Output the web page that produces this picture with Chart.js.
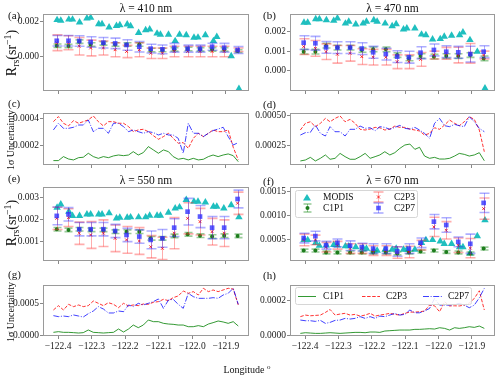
<!DOCTYPE html>
<html><head><meta charset="utf-8">
<script src="https://cdn.jsdelivr.net/npm/chart.js@4.4.1/dist/chart.umd.min.js"></script>
<style>
html,body{margin:0;padding:0;background:#fff;}
#wrap{position:relative;width:500px;height:378px;overflow:hidden;font-family:"Liberation Serif","DejaVu Serif",serif;color:#111;}
canvas{position:absolute;}
.t{position:absolute;white-space:nowrap;line-height:1;}
.t sub{font-size:70%;vertical-align:-0.3em;line-height:0;}
.t sup{font-size:70%;vertical-align:0.55em;line-height:0;}
</style></head><body><div id="wrap"></div>
<script>
// ---------------- DATA ----------------
const LON_PTS = [-122.404,-122.369,-122.337,-122.303,-122.265,-122.230,-122.196,-122.158,-122.124,-122.089,-122.054,-122.014,-121.977,-121.941,-121.905,-121.865];
const LON_MODIS = [-122.403,-122.392,-122.368,-122.357,-122.336,-122.314,-122.303,-122.279,-122.269,-122.248,-122.226,-122.216,-122.194,-122.184,-122.160,-122.139,-122.127,-122.105,-122.095,-122.071,-122.051,-122.038,-122.018,-121.995,-121.983,-121.961,-121.937,-121.927,-121.906,-121.884,-121.861];
const LON_UNC = [-122.414,-122.399,-122.384,-122.369,-122.354,-122.339,-122.325,-122.310,-122.295,-122.280,-122.265,-122.250,-122.235,-122.220,-122.205,-122.190,-122.176,-122.161,-122.146,-122.131,-122.116,-122.101,-122.086,-122.071,-122.057,-122.042,-122.027,-122.012,-121.997,-121.982,-121.967,-121.952,-121.938,-121.923,-121.908,-121.893,-121.878,-121.863];
const X_TICKS = [-122.4,-122.3,-122.2,-122.1,-122.0,-121.9];
const X_TICK_LABELS = ['\u2212122.4','\u2212122.3','\u2212122.2','\u2212122.1','\u2212122.0','\u2212121.9'];
const SERIES = ['MODIS','C1P1','C2P3','C2P7'];

// 410 nm
const MODIS_410 = [0.0021,0.00206,0.00213,0.00213,0.00196,0.00219,0.00223,0.00187,0.00187,0.00168,0.00177,0.00181,0.00185,0.00175,0.00137,0.00152,0.00156,0.00133,0.00126,0.00126,0.0009,0.00126,0.00124,0.00109,0.0011,0.00124,0.0009,0.00114,null,0.00004,-0.00183];
const C1P1_410 = [0.00063,0.00061,0.00086,0.0007,0.00076,0.0007,0.0007,0.0007,0.00038,0.00038,0.00042,0.00044,0.00042,0.00042,0.00042,0.00032];
const C1P1_410_ERR = [0.0001,0.0001,0.0001,0.0001,0.0001,0.0001,0.0001,0.0001,0.0001,0.0001,0.0001,0.0001,0.0001,0.0001,0.0001,0.00008];
const C2P3_410 = [0.0008,0.0008,0.0006,0.0005,0.0005,0.0004,0.0003,0.0004,0.0002,0.0002,0.0003,0.0003,0.0003,0.0003,0.0003,0.0004];
const C2P3_410_ERR = [0.00045,0.0004,0.0005,0.00045,0.0004,0.0004,0.00035,0.0004,0.0003,0.0003,0.0003,0.0003,0.0003,0.0003,0.0003,0.0001];
const C2P7_410 = [0.00091,0.00091,0.0009,0.00084,0.0008,0.00076,0.00067,0.00057,0.00046,0.00042,0.00051,0.00046,0.00046,0.00057,0.00051,0.00038];
const C2P7_410_ERR = [0.0003,0.0003,0.0003,0.0003,0.0003,0.0003,0.0003,0.0003,0.00025,0.00025,0.00025,0.0002,0.0002,0.0002,0.00025,0.0002];
// 470 nm
const MODIS_470 = [0.00246,0.00246,0.00264,0.00264,0.00259,0.00256,0.00268,0.00242,0.00251,0.00237,0.00242,0.00251,0.00259,0.00251,0.00242,0.00229,0.00239,0.00212,0.00217,0.00217,0.00186,0.00183,0.00161,0.00163,0.00175,0.0018,0.00183,0.00197,0.00158,0.00098,-0.00088];
const C1P1_470 = [0.00098,0.00098,0.00129,0.00119,0.00119,0.00107,0.0011,0.0011,0.00081,0.00064,0.00076,0.00073,0.00076,0.00076,0.00081,0.00064];
const C1P1_470_ERR = [0.00012,0.00012,0.00012,0.00012,0.00012,0.00012,0.00012,0.00012,0.00012,0.00012,0.00012,0.00012,0.00012,0.00012,0.00012,0.00012];
const C2P3_470 = [0.00124,0.00115,0.00098,0.00085,0.0009,0.00073,0.0007,0.0007,0.00047,0.00047,0.00059,0.00081,0.0009,0.00081,0.0009,0.00081];
const C2P3_470_ERR = [0.0004,0.0004,0.0004,0.00045,0.0004,0.0004,0.0004,0.0004,0.00035,0.00035,0.00035,0.0002,0.0003,0.0004,0.0005,0.0002];
const C2P7_470 = [0.00144,0.00141,0.0012,0.00119,0.00119,0.00114,0.00095,0.00086,0.00073,0.0007,0.00093,0.00107,0.00098,0.00095,0.00086,0.00098];
const C2P7_470_ERR = [0.00035,0.00035,0.0003,0.0003,0.0003,0.0003,0.0003,0.0003,0.0003,0.0003,0.0003,0.0003,0.0003,0.0003,0.0004,0.0003];
// 550 nm
const MODIS_550 = [0.00253,0.00268,0.00235,0.00216,0.00216,0.00223,0.00223,0.00223,0.00223,0.00228,0.00205,0.00208,0.00208,0.0021,0.0021,0.0021,0.00217,0.00217,0.00217,0.00231,0.0025,0.00255,0.00288,0.0028,0.0028,0.00277,0.00258,0.00258,0.0025,0.00265,0.0021];
const C1P1_550 = [0.00156,0.00153,0.00156,0.00153,0.00153,0.00145,0.00145,0.00145,0.00115,0.00115,0.00126,0.00133,0.00127,0.00123,0.00127,0.00126];
const C1P1_550_ERR = [0.00008,0.00008,0.00008,0.00008,0.00008,0.00008,0.00008,0.00008,0.00008,0.00008,0.00008,0.00008,0.00008,0.00008,0.00008,0.00008];
const C2P3_550 = [0.00205,0.00208,0.00138,0.0013,0.00138,0.00115,0.00108,0.00103,0.00077,0.0007,0.00138,0.00205,0.0019,0.00145,0.00138,0.00273];
const C2P3_550_ERR = [0.0005,0.0004,0.0005,0.0006,0.0006,0.0006,0.0006,0.0006,0.0005,0.0005,0.0007,0.0007,0.0006,0.0006,0.0006,0.0005];
const C2P7_550 = [0.00216,0.00223,0.00156,0.00156,0.00156,0.00148,0.0013,0.00123,0.00108,0.00115,0.00163,0.00235,0.00213,0.00163,0.00163,0.00292];
const C2P7_550_ERR = [0.0004,0.0003,0.0003,0.0003,0.0003,0.0003,0.0003,0.0003,0.0004,0.0004,0.0004,0.0006,0.0005,0.0005,0.0005,0.0004];
// 670 nm
const MODIS_670 = [0.0005,0.0005,0.00044,0.00038,0.00039,0.0004,0.00039,0.00037,0.00037,0.00035,0.00033,0.00032,0.00028,0.00028,0.0003,0.0003,0.00032,0.0003,0.0003,0.0003,0.00044,0.0005,0.0005,0.00047,0.00042,0.00042,0.00035,0.00035,0.00022,0.00058,0.00091];
const C1P1_670 = [0.00028,0.00028,0.00024,0.00024,0.00024,0.00024,0.00024,0.00024,0.00022,0.00024,0.00026,0.00028,0.00025,0.00024,0.00022,0.00032];
const C1P1_670_ERR = [0.00003,0.00003,0.00003,0.00003,0.00003,0.00003,0.00003,0.00003,0.00003,0.00003,0.00003,0.00003,0.00003,0.00003,0.00003,0.00003];
const C2P3_670 = [0.0005,0.0005,0.00035,0.00039,0.00032,0.00032,0.00028,0.00028,0.00024,0.00025,0.00039,0.00077,0.0007,0.00039,0.00033,0.00115];
const C2P3_670_ERR = [0.00012,0.0001,0.0001,0.00008,0.0001,0.0001,0.0001,0.0001,0.00012,0.00012,0.0001,0.0002,0.00018,0.00015,0.0002,0.00022];
const C2P7_670 = [0.00054,0.00058,0.00039,0.00044,0.00038,0.00035,0.00032,0.00032,0.00026,0.00032,0.00044,0.00088,0.00081,0.00046,0.00042,0.00127];
const C2P7_670_ERR = [0.0001,0.0001,0.00008,0.00008,0.0001,0.00008,0.0001,0.0001,0.0001,0.0001,0.0001,0.00015,0.00015,0.0001,0.0002,0.0002];

// 1-sigma uncertainty
const UNC_C1P1_410 = [0.000083,0.000083,0.000113,0.000095,0.000088,0.000105,0.000108,0.000138,0.000113,0.0001,0.000113,0.000105,0.000118,0.000125,0.00012,0.000125,0.00015,0.000125,0.000143,0.000188,0.000163,0.000138,0.000163,0.00015,0.000113,0.000093,0.0001,0.000088,0.0001,0.000088,0.000093,0.000113,0.000125,0.000113,0.000125,0.000133,0.00012,0.000075];
const UNC_C2P3_410 = [0.000375,0.000413,0.000363,0.000343,0.000383,0.000363,0.000375,0.000388,0.000418,0.000375,0.000343,0.000375,0.000375,0.000363,0.000363,0.000338,0.0003,0.000313,0.000318,0.0003,0.00027,0.000243,0.000263,0.000288,0.00025,0.000213,0.000218,0.000175,0.00025,0.000288,0.000263,0.000288,0.000313,0.0003,0.0003,0.000313,0.000183,0.000088];
const UNC_C2P7_410 = [0.000313,0.000363,0.000325,0.000325,0.000333,0.00035,0.00035,0.000388,0.0003,0.000325,0.000325,0.000288,0.000363,0.000363,0.000338,0.0003,0.000313,0.0003,0.000288,0.0003,0.000293,0.000275,0.000288,0.000275,0.000275,0.00025,0.000138,0.000363,0.000288,0.000288,0.000263,0.000288,0.000308,0.00032,0.000333,0.000263,0.0002,0.000218];
const UNC_C1P1_470 = [0.000117,0.000125,0.000147,0.000117,0.000139,0.000167,0.000131,0.000139,0.00018,0.000153,0.000131,0.000131,0.000153,0.00018,0.000139,0.000153,0.000167,0.000194,0.000167,0.000186,0.000222,0.00025,0.000258,0.000214,0.000231,0.000158,0.000139,0.000147,0.000133,0.000133,0.000139,0.000158,0.00018,0.000172,0.000158,0.000167,0.000186,0.000119];
const UNC_C2P3_470 = [0.000375,0.000431,0.000444,0.000403,0.000431,0.000472,0.000444,0.000472,0.000492,0.000444,0.000464,0.000431,0.000381,0.000375,0.000383,0.000397,0.000394,0.000375,0.000383,0.000408,0.000397,0.000397,0.000383,0.000375,0.000367,0.000333,0.000347,0.000394,0.000381,0.000417,0.000458,0.000431,0.000411,0.000444,0.000486,0.000464,0.000375,0.000194];
const UNC_C2P7_470 = [0.000333,0.000353,0.000356,0.000417,0.000347,0.000325,0.000403,0.000361,0.000361,0.000325,0.000381,0.000381,0.000408,0.000389,0.000394,0.000369,0.000403,0.000397,0.000381,0.000397,0.000414,0.000389,0.000383,0.000397,0.000375,0.000347,0.000306,0.000431,0.000472,0.000411,0.000403,0.000422,0.000411,0.000403,0.000486,0.000444,0.000389,0.000361];
const UNC_C1P1_550 = [0.000043,0.000054,0.000043,0.000043,0.000038,0.000032,0.000038,0.000081,0.000043,0.000038,0.000032,0.000038,0.000043,0.000097,0.000048,0.000097,0.000161,0.000118,0.000161,0.000242,0.000215,0.000215,0.000188,0.000177,0.000172,0.000161,0.000161,0.000134,0.000134,0.000151,0.000134,0.000177,0.000199,0.000226,0.00021,0.000188,0.000215,0.000145];
const UNC_C2P3_550 = [0.000403,0.000473,0.000403,0.000495,0.000457,0.000484,0.000457,0.000473,0.000548,0.000511,0.000473,0.000521,0.000495,0.000441,0.000511,0.000468,0.000484,0.000473,0.0005,0.000495,0.000527,0.000538,0.000575,0.000554,0.000602,0.000629,0.00071,0.000672,0.000699,0.000645,0.000753,0.000699,0.000726,0.000699,0.000726,0.000753,0.000742,0.000484];
const UNC_C2P7_550 = [0.000312,0.000296,0.000306,0.000296,0.000323,0.000306,0.00029,0.000344,0.000387,0.000457,0.000419,0.000355,0.000355,0.000387,0.000376,0.000484,0.000457,0.000511,0.000484,0.000511,0.000538,0.000581,0.00043,0.000564,0.000575,0.000495,0.00043,0.000672,0.000618,0.000591,0.000591,0.000591,0.000602,0.000591,0.000645,0.000672,0.000753,0.000495];
const UNC_C1P1_670 = [0.0000133,0.0000171,0.0000152,0.0000133,0.0000133,0.0000152,0.0000171,0.0000152,0.0000133,0.0000152,0.0000171,0.000019,0.000019,0.0000171,0.000021,0.000021,0.000019,0.0000267,0.0000286,0.0000305,0.0000324,0.0000324,0.0000324,0.0000362,0.0000362,0.0000381,0.00004,0.0000381,0.0000457,0.0000419,0.0000324,0.0000457,0.0000419,0.0000457,0.0000514,0.0000476,0.0000552,0.0000419];
const UNC_C2P3_670 = [0.000109,0.000118,0.000114,0.000116,0.000118,0.000133,0.00015,0.000118,0.000124,0.000128,0.000118,0.000122,0.000112,0.000118,0.000128,0.000112,0.000118,0.000122,0.000128,0.000122,0.000118,0.000128,0.000135,0.000135,0.000137,0.000141,0.000175,0.000171,0.000137,0.000194,0.00017,0.000171,0.00017,0.000175,0.000187,0.000213,0.000257,0.000147];
const UNC_C2P7_670 = [0.0000895,0.0000857,0.0000857,0.0000819,0.0000876,0.0000705,0.0000762,0.0000876,0.0000895,0.0000991,0.0000953,0.0000991,0.000109,0.0000991,0.000109,0.0000991,0.000112,0.000109,0.000118,0.000128,0.000118,0.000122,0.000147,0.000131,0.000131,0.000141,0.000156,0.000213,0.000175,0.000175,0.000175,0.000179,0.000185,0.000175,0.00016,0.000175,0.000217,0.000271];

// y tick values and labels
const YT_A = [0.000,0.002], YL_A = ['0.000','0.002'];
const YT_B = [0.000,0.001,0.002], YL_B = ['0.000','0.001','0.002'];
const YT_C = [0.0002,0.0004], YL_C = ['0.0002','0.0004'];
const YT_D = [0.00025,0.0005], YL_D = ['0.00025','0.00050'];
const YT_E = [0.001,0.002,0.003], YL_E = ['0.001','0.002','0.003'];
const YT_F = [0.0005,0.001,0.0015], YL_F = ['0.0005','0.0010','0.0015'];
const YT_G = [0.0,0.0005], YL_G = ['0.0000','0.0005'];
const YT_H = [0.0,0.0002], YL_H = ['0.0000','0.0002'];

// ---------------- STYLE / LAYOUT ----------------
const COL = {
  modis:'#1fbfbf',
  g:'rgba(0,128,0,0.8)', gBar:'rgba(0,128,0,0.4)', gDot:'#1d7d1d',
  r:'rgba(255,0,0,0.8)', rBar:'rgba(255,40,40,0.38)',
  b:'rgba(0,0,255,0.75)', bBar:'rgba(40,40,255,0.38)', bSq:'rgba(50,50,255,0.8)'
};
const FONT = '"Liberation Serif","DejaVu Serif",serif';
const XMIN = -122.445, XMAX = -121.831;
const LEFT = [43,249], RIGHT = [290,495];
const ROWS = [[14,91],[113,165],[187,261],[285,336]];

const PANELS = [
  {col:LEFT, row:ROWS[0], ymin:-0.00196, ymax:0.00244, yt:YT_A, yl:YL_A, kind:'rrs', m:MODIS_410, d:[C1P1_410,C2P3_410,C2P7_410], e:[C1P1_410_ERR,C2P3_410_ERR,C2P7_410_ERR]},
  {col:RIGHT, row:ROWS[0], ymin:-0.00102, ymax:0.0029, yt:YT_B, yl:YL_B, kind:'rrs', m:MODIS_470, d:[C1P1_470,C2P3_470,C2P7_470], e:[C1P1_470_ERR,C2P3_470_ERR,C2P7_470_ERR]},
  {col:LEFT, row:ROWS[1], ymin:0.00005, ymax:0.00044, yt:YT_C, yl:YL_C, kind:'unc', d:[UNC_C1P1_410,UNC_C2P3_410,UNC_C2P7_410]},
  {col:RIGHT, row:ROWS[1], ymin:0.0000833, ymax:0.000517, yt:YT_D, yl:YL_D, kind:'unc', d:[UNC_C1P1_470,UNC_C2P3_470,UNC_C2P7_470]},
  {col:LEFT, row:ROWS[2], ymin:0.00013, ymax:0.00346, yt:YT_E, yl:YL_E, kind:'rrs', m:MODIS_550, d:[C1P1_550,C2P3_550,C2P7_550], e:[C1P1_550_ERR,C2P3_550_ERR,C2P7_550_ERR]},
  {col:RIGHT, row:ROWS[2], ymin:0.0000625, ymax:0.0016, yt:YT_F, yl:YL_F, kind:'rrs', m:MODIS_670, d:[C1P1_670,C2P3_670,C2P7_670], e:[C1P1_670_ERR,C2P3_670_ERR,C2P7_670_ERR]},
  {col:LEFT, row:ROWS[3], ymin:-0.000016, ymax:0.000806, yt:YT_G, yl:YL_G, kind:'unc', xl:true, d:[UNC_C1P1_550,UNC_C2P3_550,UNC_C2P7_550]},
  {col:RIGHT, row:ROWS[3], ymin:-0.0000017, ymax:0.00029, yt:YT_H, yl:YL_H, kind:'unc', xl:true, d:[UNC_C1P1_670,UNC_C2P3_670,UNC_C2P7_670]}
];

const wrap = document.getElementById('wrap');

const errorBarPlugin = {
  id:'errbars',
  beforeDatasetDraw(chart, args){
    const ds = chart.data.datasets[args.index];
    if(!ds.errs) return;
    const ctx = chart.ctx, xs = chart.scales.x, ys = chart.scales.y;
    ctx.save();
    ctx.strokeStyle = ds.barColor;
    ds.data.forEach((p,i)=>{
      if(p.y==null) return;
      const e = ds.errs[i];
      const x = Math.round(xs.getPixelForValue(p.x)) + 0.5;
      const y1 = ys.getPixelForValue(p.y - e), y2 = ys.getPixelForValue(p.y + e);
      ctx.lineWidth = 1;
      ctx.beginPath(); ctx.moveTo(x,y1); ctx.lineTo(x,y2); ctx.stroke();
      ctx.lineWidth = 1.6;
      const c = ds.capHalf;
      ctx.beginPath();
      ctx.moveTo(x-c,y1); ctx.lineTo(x+c,y1);
      ctx.moveTo(x-c,y2); ctx.lineTo(x+c,y2);
      ctx.stroke();
    });
    ctx.restore();
  }
};
const framePlugin = {
  id:'frame',
  afterDraw(chart){
    const a = chart.chartArea, ctx = chart.ctx;
    ctx.save(); ctx.strokeStyle = '#9a9a9a'; ctx.lineWidth = 1;
    ctx.strokeRect(a.left+0.5, a.top+0.5, a.right-a.left-1, a.bottom-a.top-1);
    ctx.restore();
  }
};

function fixSize(prop, size){
  return s => { s[prop] = size; s.paddingTop = 0; s.paddingBottom = 0; s.paddingLeft = 0; s.paddingRight = 0; };
}

function buildDatasets(p){
  const out = [];
  if(p.kind === 'rrs'){
    out.push({label:SERIES[0], order:4, clip:false,
      data: LON_MODIS.map((x,i)=>({x, y:p.m[i]})),
      pointStyle:'triangle', pointRadius:4.3, pointBackgroundColor:COL.modis, pointBorderColor:COL.modis, pointBorderWidth:0});
    out.push({label:SERIES[1], order:3, clip:false,
      data: LON_PTS.map((x,i)=>({x, y:p.d[0][i]})), errs:p.e[0], barColor:COL.gBar, capHalf:4,
      pointStyle:'circle', pointRadius:2, pointBackgroundColor:COL.gDot, pointBorderColor:COL.gDot, pointBorderWidth:0});
    out.push({label:SERIES[2], order:2, clip:false,
      data: LON_PTS.map((x,i)=>({x, y:p.d[1][i]})), errs:p.e[1], barColor:COL.rBar, capHalf:5,
      pointStyle:'crossRot', pointRadius:2, pointBackgroundColor:COL.r, pointBorderColor:COL.r, pointBorderWidth:1});
    out.push({label:SERIES[3], order:1, clip:false,
      data: LON_PTS.map((x,i)=>({x, y:p.d[2][i]})), errs:p.e[2], barColor:COL.bBar, capHalf:5,
      pointStyle:'rect', pointRadius:3.3, pointBackgroundColor:COL.bSq, pointBorderColor:COL.bSq, pointBorderWidth:0});
  } else {
    out.push({label:SERIES[1], order:3, showLine:true, pointRadius:0, borderWidth:1, borderColor:COL.g,
      data: LON_UNC.map((x,i)=>({x, y:p.d[0][i]}))});
    out.push({label:SERIES[2], order:2, showLine:true, pointRadius:0, borderWidth:1, borderColor:COL.r, borderDash:[3.5,1.6],
      data: LON_UNC.map((x,i)=>({x, y:p.d[1][i]}))});
    out.push({label:SERIES[3], order:1, showLine:true, pointRadius:0, borderWidth:1, borderColor:COL.b, borderDash:[6,1.6,1,1.6],
      data: LON_UNC.map((x,i)=>({x, y:p.d[2][i]}))});
  }
  return out;
}

const PAD_L = 45, PAD_T = 6, PAD_R = 6, PAD_B = 22;
PANELS.forEach(p=>{
  const w = p.col[1]-p.col[0], h = p.row[1]-p.row[0];
  const cv = document.createElement('canvas');
  const W = w + PAD_L + PAD_R, H = h + PAD_T + PAD_B;
  cv.width = W; cv.height = H;
  cv.style.width = W+'px'; cv.style.height = H+'px';
  cv.style.left = (p.col[0]-PAD_L)+'px'; cv.style.top = (p.row[0]-PAD_T)+'px';
  wrap.appendChild(cv);
  const tickFont = {family:FONT, size:9.5};
  new Chart(cv, {
    type:'scatter',
    data:{datasets:buildDatasets(p)},
    options:{
      responsive:false, animation:false, devicePixelRatio:1,
      layout:{padding:{left:0, top:PAD_T, right:PAD_R, bottom:0}},
      plugins:{legend:{display:false}, tooltip:{enabled:false}},
      scales:{
        x:{type:'linear', min:XMIN, max:XMAX,
          afterBuildTicks: s=>{ s.ticks = X_TICKS.map(v=>({value:v})); },
          afterFit: fixSize('height', PAD_B),
          grid:{drawOnChartArea:false, drawTicks:true, tickLength:3, color:'#888'},
          border:{display:false},
          ticks:{autoSkip:false, maxRotation:0, minRotation:0, padding:2, color:'#222', font:tickFont,
            callback:(v,i)=> p.xl ? X_TICK_LABELS[i] : ''}
        },
        y:{type:'linear', min:p.ymin, max:p.ymax,
          afterBuildTicks: s=>{ s.ticks = p.yt.map(v=>({value:v})); },
          afterFit: fixSize('width', PAD_L),
          grid:{drawOnChartArea:false, drawTicks:true, tickLength:3, color:'#888'},
          border:{display:false},
          ticks:{autoSkip:false, padding:1, color:'#222', font:tickFont,
            callback:(v,i)=> p.yl[i]}
        }
      }
    },
    plugins:[errorBarPlugin, framePlugin]
  });
});

// ---------------- TEXT ----------------
function txt(html, x, y, size, center, rot){
  const d = document.createElement('div');
  d.className = 't'; d.innerHTML = html;
  d.style.left = x+'px'; d.style.top = y+'px'; d.style.fontSize = size+'px';
  d.style.transform = (center ? 'translate(-50%,-50%)' : 'translate(0,-50%)') + (rot ? ' rotate(-90deg)' : '');
  wrap.appendChild(d);
  return d;
}
const TITLES = ['\u03bb = 410 nm','\u03bb = 470 nm','\u03bb = 550 nm','\u03bb = 670 nm'];
txt(TITLES[0], 146, 8.5, 11.5, true);
txt(TITLES[1], 392.5, 8.5, 11.5, true);
txt(TITLES[2], 146, 180.5, 11.5, true);
txt(TITLES[3], 392.5, 180.5, 11.5, true);
const TAGS = ['(a)','(b)','(c)','(d)','(e)','(f)','(g)','(h)'];
const TAG_POS = [[8,15],[263,15],[8,103],[263,104],[8,178],[263,181],[8,274],[263,275]];
TAGS.forEach((t,i)=>txt(t, TAG_POS[i][0], TAG_POS[i][1], 11, false));
txt('R<sub>rs</sub>(sr<sup>\u22121</sup>)', 12, 53, 14, true, true);
txt('R<sub>rs</sub>(sr<sup>\u22121</sup>)', 12, 223, 14, true, true);
txt('1\u03c3 Uncertainty', 11, 140, 10, true, true);
txt('1\u03c3 Uncertainty', 11, 312, 10, true, true);
txt('Longitude <sup>o</sup>', 247, 370, 10, true);

// legend (f)
(function(){
  const L = document.createElement('div');
  L.style.cssText = 'position:absolute;left:295px;top:190px;width:123px;height:28px;';
  L.innerHTML = '<svg width="123" height="28" style="position:absolute;left:0;top:0">'+
    '<rect x="0.5" y="0.5" width="122" height="27" rx="2" fill="rgba(255,255,255,0.85)" stroke="#d6d6d6"/>'+
    '<polygon points="12,4 16,10.5 8,10.5" fill="'+COL.modis+'"/>'+
    '<g stroke="'+COL.gBar+'"><line x1="12.5" y1="14" x2="12.5" y2="22" /><line x1="8.5" y1="14" x2="16.5" y2="14" stroke-width="1.6"/><line x1="8.5" y1="22" x2="16.5" y2="22" stroke-width="1.6"/></g>'+
    '<circle cx="12.5" cy="18" r="2" fill="'+COL.gDot+'"/>'+
    '<g stroke="'+COL.rBar+'"><line x1="83.5" y1="2" x2="83.5" y2="12" /><line x1="78.5" y1="2" x2="88.5" y2="2" stroke-width="1.6"/><line x1="78.5" y1="12" x2="88.5" y2="12" stroke-width="1.6"/></g>'+
    '<g stroke="'+COL.r+'"><line x1="82" y1="5.5" x2="85" y2="8.5"/><line x1="85" y1="5.5" x2="82" y2="8.5"/></g>'+
    '<g stroke="'+COL.bBar+'"><line x1="83.5" y1="13" x2="83.5" y2="23" /><line x1="78.5" y1="13" x2="88.5" y2="13" stroke-width="1.6"/><line x1="78.5" y1="23" x2="88.5" y2="23" stroke-width="1.6"/></g>'+
    '<rect x="81.2" y="15.7" width="4.6" height="4.6" fill="'+COL.bSq+'"/>'+
    '</svg>';
  wrap.appendChild(L);
  txt(SERIES[0], 323, 198, 9.5, false);
  txt(SERIES[1], 323, 208.5, 9.5, false);
  txt(SERIES[2], 394, 198, 9.5, false);
  txt(SERIES[3], 394, 208.5, 9.5, false);
})();
// legend (h)
(function(){
  const L = document.createElement('div');
  L.style.cssText = 'position:absolute;left:295px;top:287px;width:177px;height:18px;';
  L.innerHTML = '<svg width="177" height="18" style="position:absolute;left:0;top:0">'+
    '<rect x="0.5" y="0.5" width="176" height="17" rx="2" fill="rgba(255,255,255,0.85)" stroke="#d6d6d6"/>'+
    '<line x1="3" y1="9.5" x2="21" y2="9.5" stroke="'+COL.g+'" stroke-width="1"/>'+
    '<line x1="67" y1="9.5" x2="85" y2="9.5" stroke="'+COL.r+'" stroke-width="1" stroke-dasharray="3.5 1.6"/>'+
    '<line x1="128" y1="9.5" x2="148" y2="9.5" stroke="'+COL.b+'" stroke-width="1" stroke-dasharray="6 1.6 1 1.6"/>'+
    '</svg>';
  wrap.appendChild(L);
  txt(SERIES[1], 323, 296.5, 9.5, false);
  txt(SERIES[2], 386, 296.5, 9.5, false);
  txt(SERIES[3], 448, 296.5, 9.5, false);
})();
</script>
</body></html>
